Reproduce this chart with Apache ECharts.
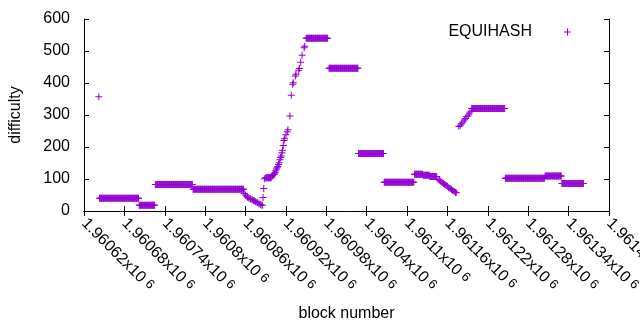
<!DOCTYPE html>
<html>
<head>
<meta charset="utf-8">
<script src="https://cdn.jsdelivr.net/npm/echarts@6/dist/echarts.min.js"></script>
<style>
  html, body { margin: 0; padding: 0; background: #fff; }
  #chart { width: 640px; height: 330px; }
</style>
</head>
<body>
<div id="chart"></div>
<script>
// x axis ticks (block number / 1e6)
const xMin = 1960620;
const xMax = 1961400;
const xStep = 60;
const xTickLabels = ['1.96062', '1.96068', '1.96074', '1.9608', '1.96086', '1.96092', '1.96098',
    '1.96104', '1.9611', '1.96116', '1.96122', '1.96128', '1.96134', '1.9614'];
const yTicks = [0, 100, 200, 300, 400, 500, 600];

// flat stretches: one point per block from start to end at the same difficulty
const runStart = [1960643, 1960702, 1960726, 1960782, 1960890, 1960950, 1960984, 1961028,
    1961066, 1961111, 1961124, 1961134, 1961196, 1961246, 1961305, 1961330];
const runEnd = [1960701, 1960725, 1960781, 1960857, 1960898, 1960982, 1961027, 1961065,
    1961110, 1961123, 1961133, 1961144, 1961245, 1961304, 1961329, 1961362];
const runValue = [40, 18, 83, 68, 104, 540, 446, 180, 90, 115, 112, 108, 320, 102, 109, 86];

// single blocks (outlier, slopes)
const pointBlock = [1960642,
    1960858, 1960860, 1960862, 1960863, 1960865, 1960867, 1960868, 1960870, 1960872, 1960873,
    1960875, 1960877, 1960878, 1960880, 1960882, 1960883, 1960885, 1960886, 1960887, 1960888,
    1960899, 1960900, 1960901, 1960902, 1960903, 1960904, 1960905, 1960906, 1960907, 1960908,
    1960909, 1960910, 1960911, 1960912, 1960913, 1960914, 1960915, 1960916, 1960917, 1960918,
    1960920, 1960922, 1960923, 1960926, 1960928, 1960930, 1960931, 1960934, 1960935, 1960939,
    1960940, 1960942, 1960944, 1960947, 1960948,
    1961146, 1961148, 1961150, 1961152, 1961154, 1961156, 1961158, 1961160, 1961162, 1961164,
    1961166, 1961168, 1961170, 1961172, 1961173,
    1961177, 1961179, 1961181, 1961183, 1961185, 1961187, 1961189, 1961191, 1961193, 1961195];
const pointValue = [357,
    55, 50, 46, 43, 40, 38, 37, 35, 33, 32,
    29, 27, 26, 23, 20, 19, 18, 42, 70, 101,
    108, 111, 113, 115, 116, 120, 126, 131, 135, 139,
    145, 151, 160, 167, 172, 182, 190, 205, 220, 226,
    238, 248, 254, 297, 362, 396, 401, 422, 427, 440,
    445, 465, 487, 510, 515,
    99, 96, 93, 90, 86, 83, 80, 77, 73, 70,
    67, 64, 61, 58, 57,
    264, 268, 273, 278, 284, 289, 295, 300, 306, 312];

const plus = 'path://M0,3H3V0H4V3H7V4H4V7H3V4H0Z';

function buildData() {
    let data = [];
    for (let r = 0; r < runStart.length; r++) {
        for (let b = runStart[r]; b <= runEnd[r]; b++) {
            data.push([b, runValue[r]]);
        }
    }
    for (let i = 0; i < pointBlock.length; i++) {
        data.push([pointBlock[i], pointValue[i]]);
    }
    return data;
}

function xLabel(v) {
    let i = Math.round((v - xMin) / xStep);
    return '{n|' + xTickLabels[i] + 'x10}{s|6}';
}

const font = 'Liberation Sans, Arial, sans-serif';
const axisLine = { show: true, lineStyle: { color: '#000', width: 1 } };
const tick = { show: true, inside: true, length: 5, lineStyle: { color: '#000' } };

let chart = echarts.init(document.getElementById('chart'));
chart.setOption({
    animation: false,
    backgroundColor: '#fff',
    textStyle: { fontFamily: font },
    grid: { left: 84, right: 31, top: 19, bottom: 119, outerBoundsMode: 'none' },
    legend: {
        data: [{ name: 'EQUIHASH', icon: plus }],
        align: 'right',
        right: 69,
        top: 24,
        padding: 0,
        itemWidth: 7,
        itemHeight: 7,
        selectedMode: false,
        textStyle: { fontSize: 16, color: '#000', fontFamily: font, padding: [0, 27, 0, 0] }
    },
    xAxis: [{
        type: 'value',
        min: xMin, max: xMax, interval: xStep,
        name: 'block number',
        nameLocation: 'middle',
        nameGap: 95,
        nameTextStyle: { fontSize: 16, color: '#000', fontFamily: font },
        axisLine: axisLine,
        axisTick: tick,
        splitLine: { show: false },
        axisLabel: {
            rotate: -45,
            margin: 10,
            fontSize: 16,
            fontFamily: font,
            color: '#000',
            formatter: xLabel,
            rich: {
                n: { fontSize: 16, fontFamily: font, color: '#000' },
                s: { fontSize: 13, fontFamily: font, color: '#000', verticalAlign: 'top', padding: [0, 0, 0, 4] }
            }
        }
    }, {
        type: 'value',
        position: 'top',
        min: xMin, max: xMax, interval: xStep,
        axisLine: axisLine,
        axisTick: tick,
        axisLabel: { show: false },
        splitLine: { show: false }
    }],
    yAxis: [{
        type: 'value',
        min: yTicks[0], max: yTicks[yTicks.length - 1], interval: 100,
        name: 'difficulty',
        nameLocation: 'middle',
        nameGap: 60,
        nameTextStyle: { fontSize: 16, color: '#000', fontFamily: font },
        axisLine: axisLine,
        axisTick: tick,
        splitLine: { show: false },
        axisLabel: { fontSize: 16, color: '#000', margin: 14 }
    }, {
        type: 'value',
        position: 'right',
        min: yTicks[0], max: yTicks[yTicks.length - 1], interval: 100,
        axisLine: axisLine,
        axisTick: tick,
        axisLabel: { show: false },
        splitLine: { show: false }
    }],
    series: [{
        name: 'EQUIHASH',
        type: 'scatter',
        symbol: plus,
        symbolSize: 7,
        itemStyle: { color: '#9400d3', opacity: 1 },
        emphasis: { disabled: true },
        data: buildData()
    }]
});
</script>
</body>
</html>
